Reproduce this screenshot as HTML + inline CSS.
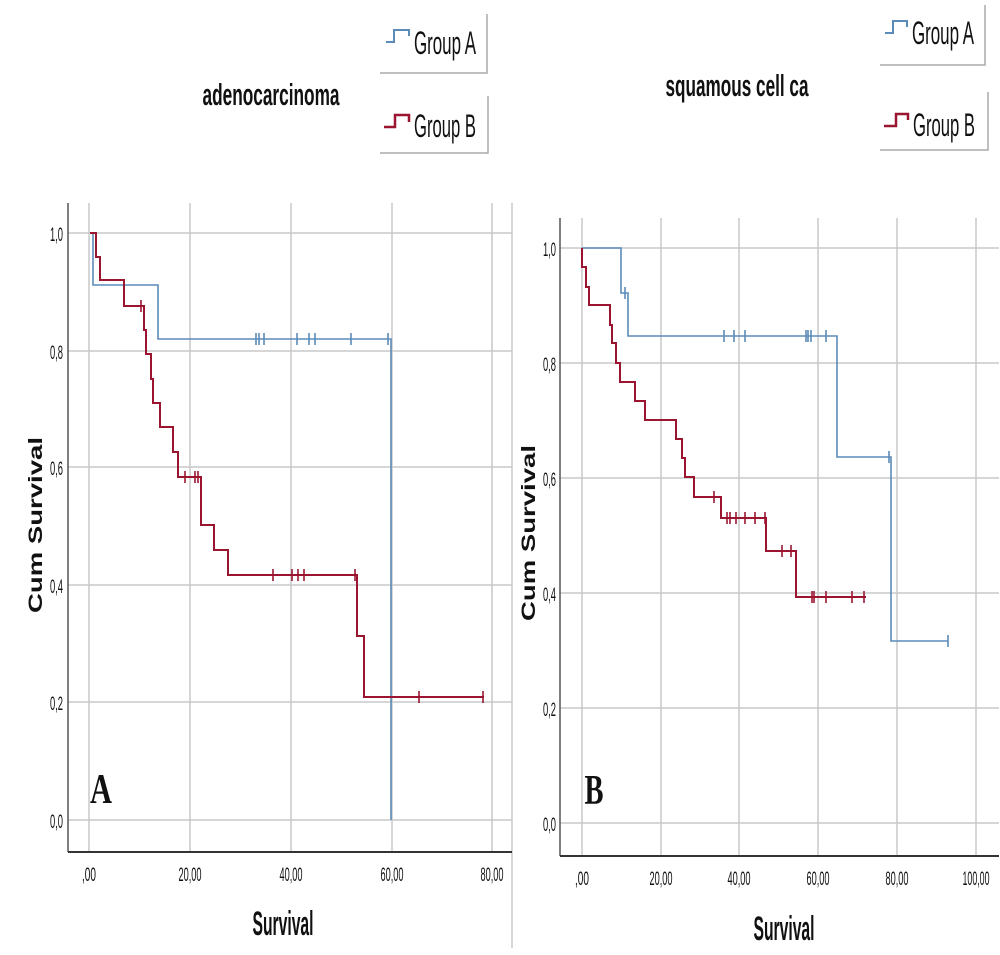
<!DOCTYPE html>
<html><head><meta charset="utf-8"><style>
html,body{margin:0;padding:0;background:#fff;}
svg{display:block;}
.t{font-family:"Liberation Sans",sans-serif;fill:#111;}
</style></head><body>
<svg width="1000" height="955" viewBox="0 0 1000 955" xmlns="http://www.w3.org/2000/svg">
<rect width="1000" height="955" fill="#fff"/>
<text class="t" x="271" y="105" font-size="31" font-weight="bold" text-anchor="middle" textLength="137" lengthAdjust="spacingAndGlyphs">adenocarcinoma</text>
<text class="t" x="737" y="96" font-size="31" font-weight="bold" text-anchor="middle" textLength="143" lengthAdjust="spacingAndGlyphs">squamous cell ca</text>
<g stroke="#aaa" stroke-width="1.5" fill="none">
<polyline points="380,73 487,73 487,14"/>
<polyline points="380,153 488,153 488,96"/>
<polyline points="880,65 985,65 985,5"/>
<polyline points="880,150 988,150 988,92"/>
</g>
<polyline points="386,42 394,42 394,30 409,30 409,36" fill="none" stroke="#5b8bb8" stroke-width="2"/>
<text class="t" x="414" y="54" font-size="32" textLength="62" lengthAdjust="spacingAndGlyphs">Group A</text>
<polyline points="384,127 395,127 395,115 409,115 409,122" fill="none" stroke="#9b1531" stroke-width="2.5"/>
<text class="t" x="414" y="137" font-size="32" textLength="62" lengthAdjust="spacingAndGlyphs">Group B</text>
<polyline points="885,33 893,33 893,21 907,21 907,27" fill="none" stroke="#5b8bb8" stroke-width="2"/>
<text class="t" x="912" y="44" font-size="32" textLength="62" lengthAdjust="spacingAndGlyphs">Group A</text>
<polyline points="884,126 896,126 896,114 908,114 908,120" fill="none" stroke="#9b1531" stroke-width="2.5"/>
<text class="t" x="913" y="136" font-size="32" textLength="62" lengthAdjust="spacingAndGlyphs">Group B</text>

<g stroke="#c8c8c8" stroke-width="1.5">
<line x1="89" y1="203" x2="89" y2="852"/><line x1="190" y1="203" x2="190" y2="852"/>
<line x1="291" y1="203" x2="291" y2="852"/><line x1="392" y1="203" x2="392" y2="852"/>
<line x1="492" y1="203" x2="492" y2="852"/>
<line x1="68" y1="233" x2="512" y2="233"/><line x1="68" y1="351" x2="512" y2="351"/>
<line x1="68" y1="467" x2="512" y2="467"/><line x1="68" y1="585" x2="512" y2="585"/>
<line x1="68" y1="702" x2="512" y2="702"/><line x1="68" y1="820" x2="512" y2="820"/>
<line x1="512" y1="203" x2="512" y2="948"/>
</g>
<line x1="68" y1="203" x2="68" y2="852" stroke="#555" stroke-width="1.5"/>
<line x1="68" y1="852" x2="512" y2="852" stroke="#333" stroke-width="2"/>
<g class="t" font-size="19" text-anchor="end">
<text x="63" y="241" textLength="13" lengthAdjust="spacingAndGlyphs">1,0</text>
<text x="63" y="359" textLength="13" lengthAdjust="spacingAndGlyphs">0,8</text>
<text x="63" y="475" textLength="13" lengthAdjust="spacingAndGlyphs">0,6</text>
<text x="63" y="593" textLength="13" lengthAdjust="spacingAndGlyphs">0,4</text>
<text x="63" y="710" textLength="13" lengthAdjust="spacingAndGlyphs">0,2</text>
<text x="63" y="828" textLength="13" lengthAdjust="spacingAndGlyphs">0,0</text>
</g>
<g class="t" font-size="19" text-anchor="middle">
<text x="89" y="881" textLength="14" lengthAdjust="spacingAndGlyphs">,00</text>
<text x="190" y="881" textLength="23" lengthAdjust="spacingAndGlyphs">20,00</text>
<text x="291" y="881" textLength="23" lengthAdjust="spacingAndGlyphs">40,00</text>
<text x="392" y="881" textLength="23" lengthAdjust="spacingAndGlyphs">60,00</text>
<text x="492" y="881" textLength="23" lengthAdjust="spacingAndGlyphs">80,00</text>
</g>
<text class="t" x="283" y="935" font-size="34" font-weight="bold" text-anchor="middle" textLength="61" lengthAdjust="spacingAndGlyphs">Survival</text>
<text class="t" x="0" y="0" font-family="'DejaVu Sans',sans-serif" font-size="19" font-weight="bold" text-anchor="middle" textLength="176" lengthAdjust="spacingAndGlyphs" transform="translate(42,525) rotate(-90)">Cum Survival</text>
<text x="101" y="803" font-family="'Liberation Serif',serif" font-size="42" font-weight="bold" text-anchor="middle" fill="#111" textLength="22" lengthAdjust="spacingAndGlyphs">A</text>
<polyline fill="none" stroke="#5b8bb8" stroke-width="1.6" points="90,233 93,233 93,285 158,285 158,339 391,339 391,820"/>
<g stroke="#5b8bb8" stroke-width="1.6">
<line x1="256" y1="333" x2="256" y2="345"/><line x1="259" y1="333" x2="259" y2="345"/><line x1="264" y1="333" x2="264" y2="345"/>
<line x1="297" y1="333" x2="297" y2="345"/><line x1="309" y1="333" x2="309" y2="345"/><line x1="315" y1="333" x2="315" y2="345"/>
<line x1="351" y1="333" x2="351" y2="345"/><line x1="388" y1="333" x2="388" y2="345"/>
</g>
<polyline fill="none" stroke="#9b1531" stroke-width="2" points="90,233 96,233 96,257 100,257 100,280 124,280 124,306 144,306 144,330 146,330 146,354 151,354 151,379 153,379 153,403 160,403 160,427 173,427 173,452 178,452 178,477 201,477 201,525 214,525 214,550 228,550 228,575 357,575 357,636 364,636 364,697 484,697"/>
<g stroke="#9b1531" stroke-width="1.6">
<line x1="141" y1="300" x2="141" y2="312"/><line x1="185" y1="471" x2="185" y2="483"/><line x1="195" y1="471" x2="195" y2="483"/><line x1="198" y1="471" x2="198" y2="483"/>
<line x1="273" y1="569" x2="273" y2="581"/><line x1="292" y1="569" x2="292" y2="581"/><line x1="298" y1="569" x2="298" y2="581"/><line x1="304" y1="569" x2="304" y2="581"/><line x1="355" y1="569" x2="355" y2="581"/>
<line x1="419" y1="691" x2="419" y2="703"/><line x1="483" y1="691" x2="483" y2="703"/>
</g>

<g stroke="#c8c8c8" stroke-width="1.5">
<line x1="582" y1="218" x2="582" y2="856"/><line x1="661" y1="218" x2="661" y2="856"/>
<line x1="739" y1="218" x2="739" y2="856"/><line x1="818" y1="218" x2="818" y2="856"/>
<line x1="897" y1="218" x2="897" y2="856"/><line x1="976" y1="218" x2="976" y2="856"/>
<line x1="560" y1="248" x2="999" y2="248"/><line x1="560" y1="363" x2="999" y2="363"/>
<line x1="560" y1="478" x2="999" y2="478"/><line x1="560" y1="593" x2="999" y2="593"/>
<line x1="560" y1="708" x2="999" y2="708"/><line x1="560" y1="823" x2="999" y2="823"/>
</g>
<line x1="560" y1="218" x2="560" y2="856" stroke="#555" stroke-width="1.5"/>
<line x1="560" y1="856" x2="999" y2="856" stroke="#333" stroke-width="2"/>
<g class="t" font-size="19" text-anchor="end">
<text x="556" y="256" textLength="13" lengthAdjust="spacingAndGlyphs">1,0</text>
<text x="556" y="371" textLength="13" lengthAdjust="spacingAndGlyphs">0,8</text>
<text x="556" y="486" textLength="13" lengthAdjust="spacingAndGlyphs">0,6</text>
<text x="556" y="601" textLength="13" lengthAdjust="spacingAndGlyphs">0,4</text>
<text x="556" y="716" textLength="13" lengthAdjust="spacingAndGlyphs">0,2</text>
<text x="556" y="831" textLength="13" lengthAdjust="spacingAndGlyphs">0,0</text>
</g>
<g class="t" font-size="19" text-anchor="middle">
<text x="582" y="885" textLength="14" lengthAdjust="spacingAndGlyphs">,00</text>
<text x="661" y="885" textLength="23" lengthAdjust="spacingAndGlyphs">20,00</text>
<text x="739" y="885" textLength="23" lengthAdjust="spacingAndGlyphs">40,00</text>
<text x="818" y="885" textLength="23" lengthAdjust="spacingAndGlyphs">60,00</text>
<text x="897" y="885" textLength="23" lengthAdjust="spacingAndGlyphs">80,00</text>
<text x="976" y="885" textLength="27" lengthAdjust="spacingAndGlyphs">100,00</text>
</g>
<text class="t" x="784" y="940" font-size="34" font-weight="bold" text-anchor="middle" textLength="61" lengthAdjust="spacingAndGlyphs">Survival</text>
<text class="t" x="0" y="0" font-family="'DejaVu Sans',sans-serif" font-size="19" font-weight="bold" text-anchor="middle" textLength="176" lengthAdjust="spacingAndGlyphs" transform="translate(535,533) rotate(-90)">Cum Survival</text>
<text x="594" y="804" font-family="'Liberation Serif',serif" font-size="42" font-weight="bold" text-anchor="middle" fill="#111" textLength="19" lengthAdjust="spacingAndGlyphs">B</text>
<polyline fill="none" stroke="#5b8bb8" stroke-width="1.6" points="582,248 621,248 621,293 628,293 628,336 837,336 837,457 891,457 891,641 948,641"/>
<g stroke="#5b8bb8" stroke-width="1.6">
<line x1="625" y1="287" x2="625" y2="299"/>
<line x1="724" y1="330" x2="724" y2="342"/><line x1="734" y1="330" x2="734" y2="342"/><line x1="745" y1="330" x2="745" y2="342"/>
<line x1="806" y1="330" x2="806" y2="342"/><line x1="808" y1="330" x2="808" y2="342"/><line x1="811" y1="330" x2="811" y2="342"/><line x1="826" y1="330" x2="826" y2="342"/>
<line x1="889" y1="451" x2="889" y2="463"/><line x1="948" y1="635" x2="948" y2="647"/>
</g>
<polyline fill="none" stroke="#9b1531" stroke-width="2" points="582,248 582,267 586,267 586,287 589,287 589,305 610,305 610,325 612,325 612,343 616,343 616,363 620,363 620,382 635,382 635,401 645,401 645,420 676,420 676,439 682,439 682,458 685,458 685,477 694,477 694,497 721,497 721,518 766,518 766,551 796,551 796,597 866,597"/>
<g stroke="#9b1531" stroke-width="1.6">
<line x1="714" y1="491" x2="714" y2="503"/>
<line x1="727" y1="512" x2="727" y2="524"/><line x1="730" y1="512" x2="730" y2="524"/><line x1="736" y1="512" x2="736" y2="524"/><line x1="745" y1="512" x2="745" y2="524"/><line x1="755" y1="512" x2="755" y2="524"/><line x1="765" y1="512" x2="765" y2="524"/>
<line x1="782" y1="545" x2="782" y2="557"/><line x1="791" y1="545" x2="791" y2="557"/>
<line x1="812" y1="591" x2="812" y2="603"/><line x1="814" y1="591" x2="814" y2="603"/><line x1="826" y1="591" x2="826" y2="603"/><line x1="852" y1="591" x2="852" y2="603"/><line x1="864" y1="591" x2="864" y2="603"/>
</g>
</svg>
</body></html>
